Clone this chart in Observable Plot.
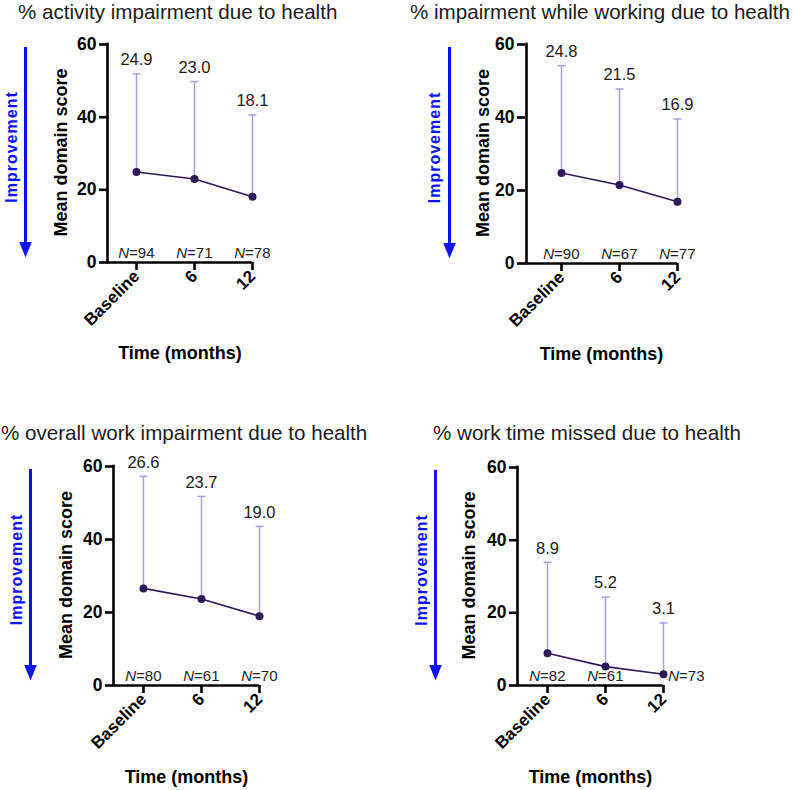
<!DOCTYPE html>
<html>
<head>
<meta charset="utf-8">
<script src="https://cdn.jsdelivr.net/npm/d3@7"></script>
<script src="https://cdn.jsdelivr.net/npm/@observablehq/plot@0.6"></script>
<style>
  body { margin: 0; background: #fff; font-family: Arial, "Liberation Sans", sans-serif; }
  #root { position: relative; width: 796px; height: 790px; overflow: hidden; background: #fff; }
  .panel { position: absolute; }
  .title { position: absolute; font-size: 20.6px; line-height: 21px; white-space: nowrap; color: #1a1a1a; font-family: Arial, "Liberation Sans", sans-serif; }
</style>
</head>
<body>
<div id="root"></div>
<script>
// ---- data ----
const timepoints = ["Baseline", "6", "12"];
const yTicks = [0, 20, 40, 60];

const title1 = "% activity impairment due to health";
const mean1  = [24.9, 23.0, 18.1];
const upper1 = [51.9, 49.8, 40.6];
const n1     = [94, 71, 78];

const title2 = "% impairment while working due to health";
const mean2  = [24.8, 21.5, 16.9];
const upper2 = [54.2, 47.8, 39.6];
const n2     = [90, 67, 77];

const title3 = "% overall work impairment due to health";
const mean3  = [26.6, 23.7, 19.0];
const upper3 = [57.3, 51.8, 43.6];
const n3     = [80, 61, 70];

const title4 = "% work time missed due to health";
const mean4  = [8.9, 5.2, 3.1];
const upper4 = [33.9, 24.3, 17.2];
const n4     = [82, 61, 73];

const yLabel = "Mean domain score";
const xLabel = "Time (months)";
const arrowLabel = "Improvement";

// ---- styles / layout ----
const lineColor = "#2c1a57";
const errColor = "#a99de3";
const blue = "#0a12ff";
const FONT = "Arial, 'Liberation Sans', sans-serif";

const headDown = {
  draw(ctx, size) {
    const r = Math.sqrt(size / Math.PI);
    ctx.moveTo(0, 0);
    ctx.lineTo(-0.9 * r, -2.2 * r);
    ctx.lineTo(0.9 * r, -2.2 * r);
    ctx.closePath();
  }
};
const capLine = {
  draw(ctx, size) {
    const r = Math.sqrt(size / Math.PI);
    ctx.moveTo(-r, 0);
    ctx.lineTo(r, 0);
  }
};

const layouts = [
  {left: 0,   top: 0,   width: 400, height: 380, mLeft: 107, xBase: 136, x12: 252, mTop: 44, fBottom: 262, titleX: 18, titleY: 1,  yLabX: 61, xLabDy: 91, arrowX: 25, textX: 11, nShift: [0, 0, 0]},
  {left: 400, top: 0,   width: 396, height: 380, mLeft: 125, xBase: 160, x12: 277, mTop: 44, fBottom: 263, titleX: 10, titleY: 1,  yLabX: 83, xLabDy: 91, arrowX: 48, textX: 34, nShift: [0, 0, 0]},
  {left: 0,   top: 390, width: 400, height: 400, mLeft: 113, xBase: 143, x12: 259, mTop: 76, fBottom: 295, titleX: 1,  titleY: 32, yLabX: 66, xLabDy: 92, arrowX: 30, textX: 16, nShift: [0, 0, 0]},
  {left: 400, top: 390, width: 396, height: 400, mLeft: 117, xBase: 147, x12: 263, mTop: 77, fBottom: 295, titleX: 33, titleY: 32, yLabX: 69, xLabDy: 92, arrowX: 35, textX: 21, nShift: [0, 0, 23]}
];

const panels = [
  {title: title1, mean: mean1, upper: upper1, n: n1},
  {title: title2, mean: mean2, upper: upper2, n: n2},
  {title: title3, mean: mean3, upper: upper3, n: n3},
  {title: title4, mean: mean4, upper: upper4, n: n4}
];

const root = document.getElementById("root");

panels.forEach((p, k) => {
  const L = layouts[k];
  const rows = timepoints.map((t, i) => ({t, mean: p.mean[i], upper: p.upper[i], n: p.n[i], shift: L.nShift[i]}));
  const offset = L.xBase - L.mLeft;
  const step = (L.x12 - L.xBase) / 2;
  const padding = offset / (2 * step);
  const arrowDx = L.arrowX - L.xBase;

  const nMarks = [];
  for (const s of [...new Set(L.nShift)]) {
    const sub = rows.filter(d => d.shift === s);
    nMarks.push(
      Plot.text(sub, {x: "t", y: () => 0, text: () => "N", fontStyle: "italic", textAnchor: "end", dx: s - 7.4, dy: -9, fontSize: 15, fill: "#222"}),
      Plot.text(sub, {x: "t", y: () => 0, text: d => "=" + d.n, textAnchor: "start", dx: s - 7.4, dy: -9, fontSize: 15, fill: "#222"})
    );
  }

  const chart = Plot.plot({
    width: L.width,
    height: L.height,
    marginLeft: L.mLeft,
    marginRight: L.width - L.x12,
    marginTop: L.mTop,
    marginBottom: L.height - L.fBottom,
    style: {fontFamily: FONT, background: "transparent", overflow: "visible", color: "#000"},
    x: {type: "point", domain: timepoints, padding, align: 1},
    y: {domain: [0, 60]},
    marks: [
      // improvement arrow
      Plot.ruleX(["Baseline"], {y1: () => 59.2, y2: () => 4.5, dx: arrowDx, stroke: blue, strokeWidth: 3}),
      Plot.dot(["Baseline"], {x: d => d, y: () => 1.4, dx: arrowDx, symbol: headDown, r: 7, fill: blue, stroke: "none"}),
      Plot.text([arrowLabel], {text: d => d, frameAnchor: "left", textAnchor: "middle", lineAnchor: "middle", rotate: -90, dx: L.textX - L.mLeft, dy: -6.5, fill: blue, fontSize: 16, fontWeight: "bold"}),
      // axes
      Plot.ruleX(["Baseline"], {y1: () => 0, y2: () => 60, dx: -offset, stroke: "#000", strokeWidth: 2.6, strokeLinecap: "square"}),
      Plot.ruleY([0], {stroke: "#000", strokeWidth: 2.6}),
      Plot.axisY({ticks: yTicks, tickSize: 8, tickPadding: 3, strokeWidth: 2.6, fontSize: 17.5, fontWeight: "bold", label: null}),
      Plot.axisX({tickSize: 8, tickPadding: 3, strokeWidth: 2.6, tickRotate: -45, fontSize: 17, fontWeight: "bold", label: null}),
      // axis titles
      Plot.text([yLabel], {text: d => d, frameAnchor: "left", textAnchor: "middle", lineAnchor: "middle", rotate: -90, dx: L.yLabX - L.mLeft, dy: -1, fill: "#000", fontSize: 18, fontWeight: "bold"}),
      Plot.text([xLabel], {text: d => d, frameAnchor: "bottom", textAnchor: "middle", lineAnchor: "middle", dy: L.xLabDy, fill: "#000", fontSize: 18, fontWeight: "bold"}),
      // error bars
      Plot.ruleX(rows, {x: "t", y1: "mean", y2: "upper", stroke: errColor, strokeWidth: 1.5}),
      Plot.dot(rows, {x: "t", y: "upper", symbol: capLine, r: 4, fill: "none", stroke: errColor, strokeWidth: 1.5}),
      // mean line
      Plot.line(rows, {x: "t", y: "mean", stroke: lineColor, strokeWidth: 1.6}),
      Plot.dot(rows, {x: "t", y: "mean", r: 4, fill: lineColor, stroke: "none"}),
      // labels
      Plot.text(rows, {x: "t", y: "upper", text: d => d.mean.toFixed(1), dy: -14, fontSize: 16.5, fill: "#1a1a1a"}),
      ...nMarks
    ]
  });
  chart.classList.add("panel");
  chart.style.left = L.left + "px";
  chart.style.top = L.top + "px";
  chart.style.position = "absolute";
  chart.querySelectorAll("text").forEach(el => {
    if (el.textContent === arrowLabel) el.setAttribute("letter-spacing", "1");
  });
  root.appendChild(chart);

  const t = document.createElement("div");
  t.className = "title";
  t.textContent = p.title;
  t.style.left = (L.left + L.titleX) + "px";
  t.style.top = (L.top + L.titleY) + "px";
  root.appendChild(t);
});
</script>
</body>
</html>
